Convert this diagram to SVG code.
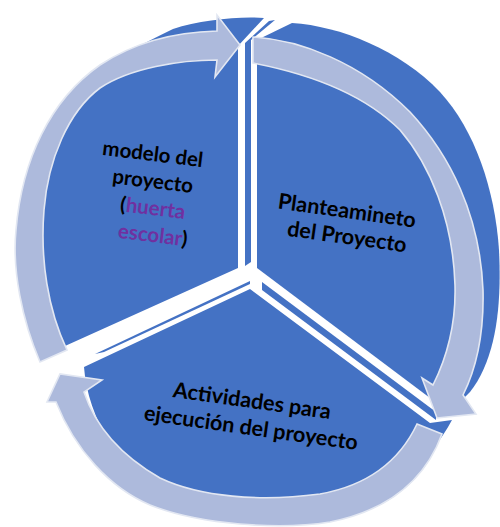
<svg xmlns="http://www.w3.org/2000/svg" width="500" height="527" viewBox="0 0 500 527">
<style>
.seg{fill:#4472C4}
.side{fill:#4472C4}
.band{fill:#ADBADC;stroke:#E2E7F2;stroke-width:1.6;stroke-linejoin:miter}
.lbl{font-family:Lato,"Liberation Sans",sans-serif;font-weight:bold;font-size:20.5px;fill:#000;text-anchor:middle}
.acc{fill:#7030A0}
</style>
<rect width="500" height="527" fill="#fff"/>
<g id="node-modelo">
<path class="seg" d="M238,268 L238,46 L264,18 C240,16 200,20 173,29 C140,45 110,60 90,82 C62,112 45,160 38,210 C33,260 40,320 55,352 L65,346 Z"/>
<g class="lbl">
<text x="152" y="161" transform="rotate(7 152 161)">modelo del</text>
<text x="152" y="188" transform="rotate(7 152 188)">proyecto</text>
<text x="152" y="215" transform="rotate(7 152 215)">(<tspan class="acc">huerta</tspan></text>
<text x="152" y="242" transform="rotate(7 152 242)"><tspan class="acc">escolar</tspan>)</text>
</g>
</g>
<g id="node-planteamiento">
<path class="seg" d="M257,268 L257,40 L292,23 C340,26 400,50 440,92 C475,130 495,190 499,250 C502,310 495,360 470,392 C462,400 455,406 446,410 Z"/>
<g class="lbl" style="font-size:21.5px">
<text x="346" y="218" transform="rotate(8 346 218)">Planteamineto</text>
<text x="346" y="244" transform="rotate(8 346 244)">del Proyecto</text>
</g>
</g>
<g id="node-actividades">
<path class="seg" d="M250,289 L430,423 L452,420 C430,460 400,490 350,505 C300,518 220,515 170,495 C120,470 88,420 84,367 Z"/>
<g class="lbl" style="font-size:21.5px">
<text x="251" y="408" transform="rotate(8 251 408)">Actividades para</text>
<text x="250" y="435" transform="rotate(8 250 435)">ejecución del proyecto</text>
</g>
</g>
<g id="sides">
<polygon class="side" points="245,266 245,43 269,21 275,20 251,40 251,262"/>
<polygon class="side" points="250,281 95,354 104,352 250,284"/>
<polygon class="side" points="262,282 436,412 436,420 262,290"/>
</g>
<g id="connectors">
<path class="band" d="M40,362 C22,320 12,270 16,230 C22,160 50,100 100,65 C135,42 175,32 217,31 L217,15 L240,45 L215,77 L217,60 C180,60 130,68 100,88 C68,112 48,160 44,210 C40,260 48,310 67,350 Z"/>
<path class="band" d="M253,37 C300,40 360,62 410,112 C450,155 480,215 483,290 C484,330 478,365 463,395 L476,414 L437,418 L422,378 L433,385 C448,355 456,320 455,285 C453,220 430,165 400,130 C365,95 310,74 253,63 Z"/>
<path class="band" d="M417,424 L442,434 C425,480 390,510 330,522 C280,530 200,525 150,505 C110,488 75,450 56,402 L47,402 L60,374 L102,380 L84,392 C95,425 120,455 160,478 C200,497 260,502 320,494 C370,485 400,460 417,424 Z"/>
</g>
</svg>
